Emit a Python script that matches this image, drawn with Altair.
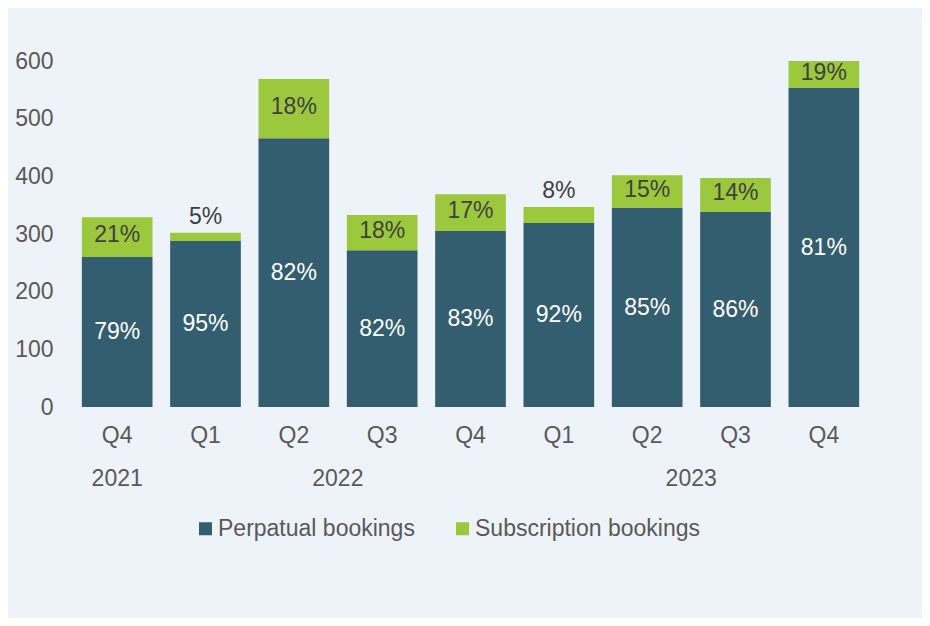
import altair as alt
import pandas as pd

ids = ["2021-Q4", "2022-Q1", "2022-Q2", "2022-Q3", "2022-Q4", "2023-Q1", "2023-Q2", "2023-Q3", "2023-Q4"]
quarters = ["Q4", "Q1", "Q2", "Q3", "Q4", "Q1", "Q2", "Q3", "Q4"]
perpetual = [260, 288, 466, 272, 305, 319, 345, 338, 553]
subscription = [69, 14, 103, 61, 64, 28, 57, 59, 47]
perp_pct = ["79%", "95%", "82%", "82%", "83%", "92%", "85%", "86%", "81%"]
sub_pct = ["21%", "5%", "18%", "18%", "17%", "8%", "15%", "14%", "19%"]
year_labels = ["2021", "2022", "2023"]
year_anchor = ["2021-Q4", "2022-Q2", "2023-Q2"]
year_shift = [0, 44, 44]

series = ["Perpatual bookings", "Subscription bookings"]
colors = ["#325e70", "#9bc83c"]

rows = []
for i, cid in enumerate(ids):
    rows.append({"id": cid, "q": quarters[i], "series": series[0], "value": perpetual[i], "ord": 0})
    rows.append({"id": cid, "q": quarters[i], "series": series[1], "value": subscription[i], "ord": 1})
bars_df = pd.DataFrame(rows)

lab_df = pd.DataFrame({
    "id": ids,
    "perp_y": [p / 2 for p in perpetual],
    "perp_lab": perp_pct,
    "sub_y": [p + s / 2 for p, s in zip(perpetual, subscription)],
    "total": [p + s for p, s in zip(perpetual, subscription)],
    "sub": subscription,
    "sub_lab": sub_pct,
})

years_df = pd.DataFrame({"id": year_anchor, "year": year_labels, "shift": year_shift})

FONT = "Liberation Sans"
FS = 23

xenc = alt.X("id:N", sort=ids, title=None,
             scale=alt.Scale(paddingInner=0.2, paddingOuter=0.1),
             axis=alt.Axis(labelExpr="split(datum.value, '-')[1]", labelAngle=0,
                           domain=False, ticks=False, labelPadding=17,
                           labelFontSize=FS, labelColor="#595959", labelFont=FONT))
yscale = alt.Scale(domain=[0, 600], nice=False)

bars = alt.Chart(bars_df).mark_bar().encode(
    x=xenc,
    y=alt.Y("value:Q", stack="zero", scale=yscale, title=None,
            axis=alt.Axis(values=[0, 100, 200, 300, 400, 500, 600], domain=False, ticks=False,
                          grid=False, labelPadding=20, labelFontSize=FS,
                          labelColor="#595959", labelFont=FONT)),
    color=alt.Color("series:N", scale=alt.Scale(domain=series, range=colors), sort=series,
                    legend=alt.Legend(title=None, orient="none", legendX=121, legendY=456,
                                      direction="horizontal", symbolType="square",
                                      symbolSize=169, symbolStrokeWidth=0,
                                      labelFontSize=FS, labelColor="#595959", labelFont=FONT,
                                      labelLimit=0, labelOffset=1, columnPadding=36)),
    order=alt.Order("ord:Q"),
)

perp_text = alt.Chart(lab_df).mark_text(color="white", fontSize=FS, font=FONT).encode(
    x=alt.X("id:N", sort=ids), y=alt.Y("perp_y:Q", scale=yscale), text="perp_lab:N")

sub_in = alt.Chart(lab_df).transform_filter("datum.sub >= 30").mark_text(
    color="#404040", fontSize=FS, font=FONT, dy=-2).encode(
    x=alt.X("id:N", sort=ids), y=alt.Y("sub_y:Q", scale=yscale), text="sub_lab:N")

sub_out = alt.Chart(lab_df).transform_filter("datum.sub < 30").mark_text(
    color="#404040", fontSize=FS, font=FONT, baseline="bottom", dy=-4).encode(
    x=alt.X("id:N", sort=ids), y=alt.Y("total:Q", scale=yscale), text="sub_lab:N")

year_layers = []
for yl, anc, sh in zip(year_labels, year_anchor, year_shift):
    year_layers.append(
        alt.Chart(years_df[years_df["year"] == yl]).mark_text(
            color="#595959", fontSize=FS, font=FONT, dx=sh).encode(
            x=alt.X("id:N", sort=ids), y=alt.value(418), text="year:N"))

chart = alt.layer(bars, perp_text, sub_in, sub_out, *year_layers).properties(
    width=795, height=346,
    autosize=alt.AutoSizeParams(type="none"),
    padding={"left": 65, "top": 53, "right": 54, "bottom": 211},
    background="#eef3fa",
).configure_view(stroke=None)

chart.save("out.html", embed_options={"renderer": "svg", "actions": False})
